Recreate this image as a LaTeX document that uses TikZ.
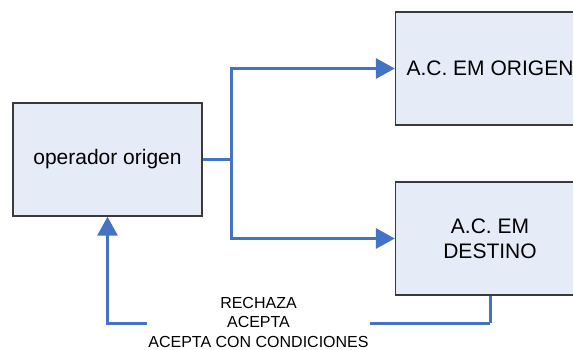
\documentclass[tikz,border=0pt]{standalone}
\usepackage{fontspec}
\setmainfont{Liberation Sans}
\usetikzlibrary{arrows.meta}
\definecolor{boxfill}{HTML}{E6ECF7}
\definecolor{boxline}{HTML}{3A3A3A}
\definecolor{flow}{HTML}{4472C4}
\begin{document}
\begin{tikzpicture}[x=1pt,y=-1pt,
  block/.style={draw=boxline, line width=1.3pt, fill=boxfill,
    minimum width=189pt, minimum height=113pt, inner sep=0pt,
    align=center, font=\fontsize{21}{25}\selectfont},
  link/.style={draw=flow, line width=3pt},
  tip/.style={-{Triangle[length=19pt,width=20pt]}}]
\useasboundingbox (0,0) rectangle (573,349);
\clip (0,0) rectangle (573,349);

% boxes
\node[block] (orig) at (107.5,159.5) {operador origen};
\node[block] (acor) at (490,68.5) {A.C. EM ORIGEN};
\node[block] (acde) at (490,238.5) {A.C. EM\\DESTINO};

% fan-out from the operator
\coordinate (split) at (231,159.5);
\draw[link] (orig.east) -- (split);
\draw[link,tip] (split) |- (acor.west);
\draw[link,tip] (split) |- (acde.west);

% reply path back to the operator
\coordinate (turn) at (490,323);
\draw[link] (acde.south) -- (turn);
\draw[link,tip] (turn) -| (orig.south);
\node[fill=white, inner xsep=1pt, inner ysep=0pt, align=center,
  font=\fontsize{16}{19.5}\selectfont] (reply) at (258.5,322)
  {RECHAZA\\ACEPTA\\ACEPTA CON CONDICIONES};
\end{tikzpicture}
\end{document}
